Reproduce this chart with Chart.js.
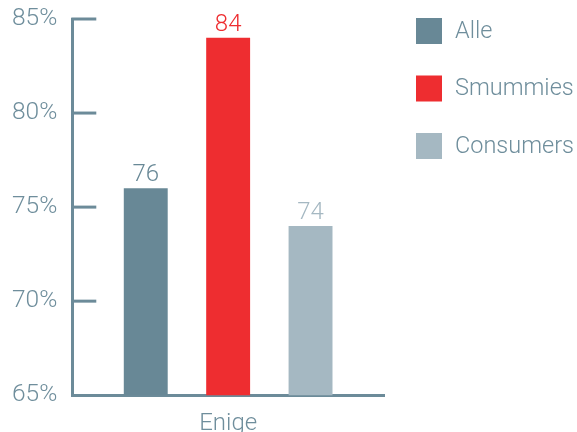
<!DOCTYPE html>
<html>
<head>
<meta charset="utf-8">
<script src="https://cdn.jsdelivr.net/npm/chart.js@4"></script>
<style>
  body { margin: 0; background: #fff; }
  #wrap { width: 577px; height: 432px; }
</style>
</head>
<body>
<div id="wrap"><canvas id="enigeChart" width="577" height="432"></canvas></div>
<script>
const categories = ['Enige'];
const seriesNames = ['Alle', 'Smummies', 'Consumers'];
const alleValues = [76];
const smummiesValues = [84];
const consumersValues = [74];
const yTicks = [65, 70, 75, 80, 85];

const axisColor = '#6c8b99';
const textColor = '#6f8e9c';
const barColors = ['#688896', '#ee2d30', '#a5b8c2'];
const fontFamily = 'Roboto, "Liberation Sans", sans-serif';

/* short tick marks pointing into the plot */
const tickMarks = {
  id: 'tickMarks',
  afterDraw(chart) {
    const ctx = chart.ctx;
    const y = chart.scales.y;
    const left = chart.chartArea.left;
    ctx.save();
    ctx.strokeStyle = axisColor;
    ctx.lineWidth = 3;
    yTicks.forEach(v => {
      if (v === y.min) return;
      const py = y.getPixelForValue(v);
      ctx.beginPath();
      ctx.moveTo(left - 1, py);
      ctx.lineTo(left + 24, py);
      ctx.stroke();
    });
    ctx.restore();
  }
};

/* numbers on top of the bars */
const valueLabels = {
  id: 'valueLabels',
  afterDatasetsDraw(chart) {
    const ctx = chart.ctx;
    ctx.save();
    ctx.font = '300 24px ' + fontFamily;
    ctx.textAlign = 'center';
    ctx.textBaseline = 'alphabetic';
    chart.data.datasets.forEach((ds, i) => {
      chart.getDatasetMeta(i).data.forEach((bar, j) => {
        ctx.fillStyle = ds.backgroundColor;
        ctx.fillText(ds.data[j], bar.x, bar.y - 7);
      });
    });
    ctx.restore();
  }
};

/* legend to the right, square swatches */
const sideLegend = {
  id: 'sideLegend',
  afterDraw(chart) {
    const ctx = chart.ctx;
    ctx.save();
    ctx.font = '300 23.5px ' + fontFamily;
    ctx.textBaseline = 'middle';
    chart.data.datasets.forEach((ds, i) => {
      const top = 18 + i * 57.5;
      ctx.fillStyle = ds.backgroundColor;
      ctx.fillRect(416, top, 26, 26);
      ctx.fillStyle = textColor;
      ctx.fillText(ds.label, 455, top + 14);
    });
    ctx.restore();
  }
};

new Chart(document.getElementById('enigeChart'), {
  type: 'bar',
  data: {
    labels: categories,
    datasets: [
      { label: seriesNames[0], data: alleValues, backgroundColor: barColors[0] },
      { label: seriesNames[1], data: smummiesValues, backgroundColor: barColors[1] },
      { label: seriesNames[2], data: consumersValues, backgroundColor: barColors[2] }
    ]
  },
  options: {
    responsive: false,
    animation: false,
    categoryPercentage: 0.793,
    barPercentage: 0.533,
    layout: { padding: { top: 19, right: 193, left: 12, bottom: -20 } },
    plugins: {
      legend: { display: false },
      tooltip: { enabled: false }
    },
    scales: {
      x: {
        grid: { display: false, drawTicks: false },
        border: { display: true, color: axisColor, width: 3 },
        ticks: { color: textColor, padding: 14, font: { family: fontFamily, size: 24, weight: 300 } }
      },
      y: {
        min: 65,
        max: 85,
        grid: { display: false, drawTicks: true, tickLength: 15 },
        border: { display: true, color: axisColor, width: 3 },
        ticks: {
          stepSize: 5,
          padding: 0,
          color: textColor,
          font: { family: fontFamily, size: 24.5, weight: 300 },
          callback: v => v + '%'
        }
      }
    }
  },
  plugins: [tickMarks, valueLabels, sideLegend]
});
</script>
</body>
</html>
